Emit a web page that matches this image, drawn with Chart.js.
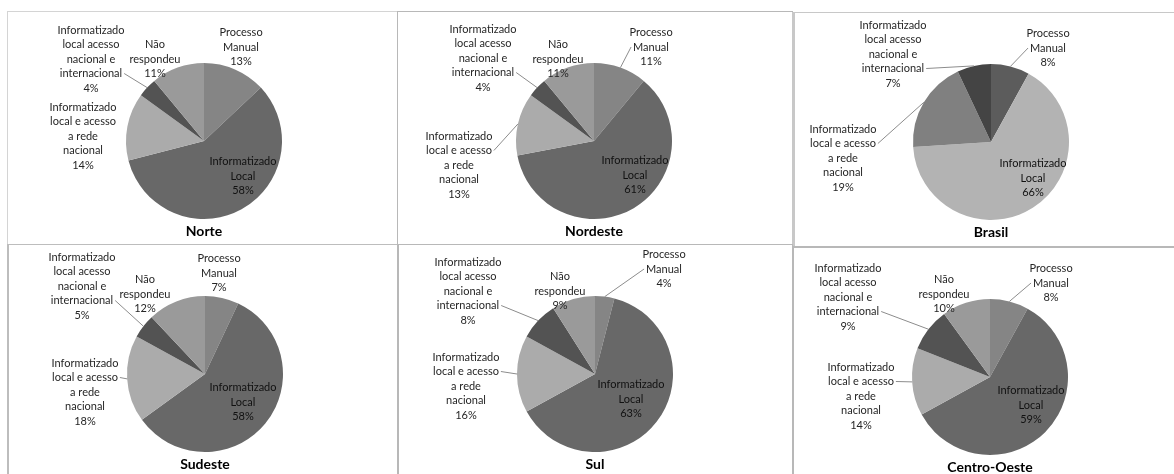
<!DOCTYPE html>
<html>
<head>
<meta charset="utf-8">
<script src="https://cdn.jsdelivr.net/npm/chart.js@4.4.1/dist/chart.umd.min.js"></script>
<style>
    body { margin: 0; background: #ffffff; width: 1174px; height: 474px; overflow: hidden; position: relative; }
    .panel { position: absolute; box-sizing: border-box; border: 1px solid #b8b8b8; background: #fff; }
    .panel canvas { position: absolute; left: 0; top: 0; }
</style>
</head>
<body>
<div class="panel" id="p0" style="left:7px;top:11px;width:391px;height:235px;border-color:#d4d4d4"><canvas id="c0"></canvas></div>
<div class="panel" id="p1" style="left:397px;top:11px;width:396px;height:235px"><canvas id="c1"></canvas></div>
<div class="panel" id="p2" style="left:792px;top:12px;width:384px;height:236px;border-color:#c8c8c8;border-left-width:3px"><canvas id="c2"></canvas></div>
<div class="panel" id="p3" style="left:7px;top:244px;width:391px;height:232px;border-left-width:2px;border-color:#bdbdbd"><canvas id="c3"></canvas></div>
<div class="panel" id="p4" style="left:397px;top:244px;width:396px;height:232px;border-left-width:2px"><canvas id="c4"></canvas></div>
<div class="panel" id="p5" style="left:792px;top:246px;width:384px;height:230px;border-left-width:2px;border-top-width:2px"><canvas id="c5"></canvas></div>

<script>
// Data
const categories = [
    'Processo Manual',
    'Informatizado Local',
    'Informatizado local e acesso a rede nacional',
    'Informatizado local acesso nacional e internacional',
    'Não respondeu'
];
// how each category label is broken into lines
const categoryLines = [
    ['Processo', 'Manual'],
    ['Informatizado', 'Local'],
    ['Informatizado', 'local e acesso', 'a rede', 'nacional'],
    ['Informatizado', 'local acesso', 'nacional e', 'internacional'],
    ['Não', 'respondeu']
];
const regions = ['Norte', 'Nordeste', 'Brasil', 'Sudeste', 'Sul', 'Centro-Oeste'];
const norteValues = [13, 58, 14, 4, 11];
const nordesteValues = [11, 61, 13, 4, 11];
const brasilValues = [8, 66, 19, 7];
const sudesteValues = [7, 58, 18, 5, 12];
const sulValues = [4, 63, 16, 8, 9];
const centroOesteValues = [8, 59, 14, 9, 10];

const allValues = [norteValues, nordesteValues, brasilValues, sudesteValues, sulValues, centroOesteValues];

// Colors
const regionColors = ['#858585', '#686868', '#ababab', '#535353', '#9a9a9a'];
const brasilColors = ['#5c5c5c', '#b3b3b3', '#808080', '#444444'];

// Label placement (offset of label block centre from pie centre, px) and leader flags
const labelOffsets = [
    [[37, -94], [39, 35], [-121, -5], [-113, -82], [-49, -82]],
    [[57, -94], [41, 34], [-135, 24], [-111, -83], [-36, -82]],
    [[57, -94], [42, 36], [-148, 16], [-98, -88]],
    [[14, -101], [38, 28], [-120, 18], [-123, -88], [-60, -80]],
    [[69, -105], [36, 25], [-129, 12], [-127, -83], [-35, -83]],
    [[61, -94], [41, 28], [-129, 19], [-142, -80], [-46, -83]]
];
const leaders = [
    [false, false, false, true, false],
    [true, false, true, true, false],
    [true, false, true, true],
    [false, false, true, true, false],
    [true, false, true, true, false],
    [true, false, true, true, false]
];
// line of the label the leader starts from
const leaderLine = [1, 1, 1, 3, 1];

const pieCenter = { x: 196, y: 129 };
const pieRadius = 78;
const titleY = 219;
const lineHeight = 14.5;
const labelFont = '11px Lato';

const labelPlugin = {
    id: 'pieLabels',
    afterDatasetsDraw(chart, args, opts) {
        const ctx = chart.ctx;
        const meta = chart.getDatasetMeta(0);
        const data = chart.data.datasets[0].data;
        ctx.save();
        ctx.font = labelFont;
        ctx.textAlign = 'center';
        ctx.textBaseline = 'middle';
        meta.data.forEach((arc, i) => {
            const lines = categoryLines[i].concat([data[i] + '%']);
            const off = opts.offsets[i];
            const cx = arc.x + off[0];
            const cy = arc.y + off[1];
            const top = cy - lines.length * lineHeight / 2;
            ctx.fillStyle = i === 1 ? '#111111' : '#262626';
            lines.forEach((t, k) => {
                ctx.fillText(t, cx, top + k * lineHeight + lineHeight / 2);
            });
            if (opts.leaders[i]) {
                const mid = (arc.startAngle + arc.endAngle) / 2;
                const ex = arc.x + Math.cos(mid) * arc.outerRadius;
                const ey = arc.y + Math.sin(mid) * arc.outerRadius;
                const k = leaderLine[i];
                const w = ctx.measureText(lines[k]).width;
                const sy = top + k * lineHeight + lineHeight / 2;
                const sx = ex > cx ? cx + w / 2 + 2 : cx - w / 2 - 2;
                ctx.strokeStyle = '#8c8c8c';
                ctx.lineWidth = 1;
                ctx.beginPath();
                ctx.moveTo(sx, sy);
                ctx.lineTo(ex, ey);
                ctx.stroke();
            }
        });
        // region title under the pie
        ctx.font = 'bold 14px Lato';
        ctx.fillStyle = '#000000';
        ctx.fillText(opts.title, meta.data[0].x, opts.titleY);
        ctx.restore();
    }
};

regions.forEach((region, idx) => {
    const panel = document.getElementById('p' + idx);
    const canvas = document.getElementById('c' + idx);
    const w = panel.clientWidth;
    const h = panel.clientHeight;
    canvas.width = w;
    canvas.height = h;
    canvas.style.width = w + 'px';
    canvas.style.height = h + 'px';

    const values = allValues[idx];
    const colors = region === 'Brasil' ? brasilColors : regionColors;

    new Chart(canvas, {
        type: 'pie',
        data: {
            labels: categories.slice(0, values.length),
            datasets: [{
                data: values,
                backgroundColor: colors,
                borderWidth: 0
            }]
        },
        options: {
            responsive: false,
            animation: false,
            layout: {
                padding: {
                    left: pieCenter.x - pieRadius,
                    right: w - pieCenter.x - pieRadius,
                    top: pieCenter.y - pieRadius,
                    bottom: h - pieCenter.y - pieRadius
                }
            },
            plugins: {
                legend: { display: false },
                tooltip: { enabled: false },
                pieLabels: {
                    offsets: labelOffsets[idx],
                    leaders: leaders[idx],
                    title: region,
                    titleY: titleY
                }
            }
        },
        plugins: [labelPlugin]
    });
});
</script>
</body>
</html>
